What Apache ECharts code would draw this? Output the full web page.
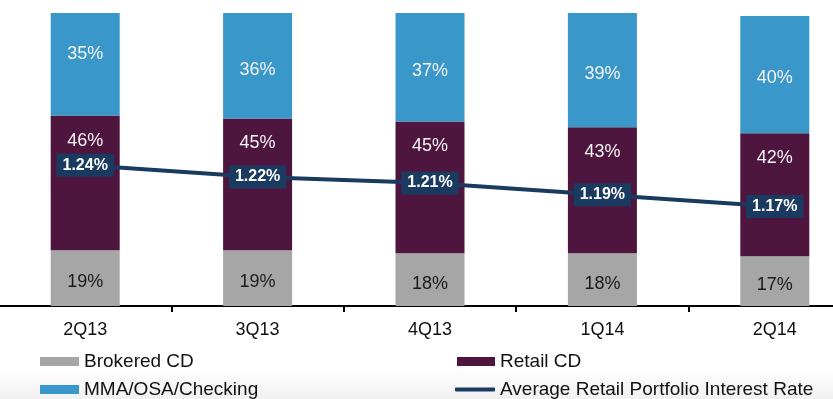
<!DOCTYPE html>
<html>
<head>
<meta charset="utf-8">
<title>Retail deposit mix</title>
<script src="https://cdn.jsdelivr.net/npm/echarts@6/dist/echarts.min.js"></script>
<style>
  html, body { margin: 0; padding: 0; background: #ffffff; }
  #chart { width: 833px; height: 399px; }
</style>
</head>
<body>
<div id="chart"></div>
<script>
// Quarterly deposit mix (% of retail portfolio) and average interest rate
const quarters = ['2Q13', '3Q13', '4Q13', '1Q14', '2Q14'];
const brokeredCD = [19, 19, 18, 18, 17];
const retailCD = [46, 45, 45, 43, 42];
const mmaChecking = [35, 36, 37, 39, 40];
const avgRate = [1.24, 1.22, 1.21, 1.19, 1.17];

const FONT = '"Liberation Sans", Arial, sans-serif';
const GRAY = '#a6a6a6';
const PLUM = '#4e163e';
const BLUE = '#3997c9';
const NAVY = '#1b3a5f';

const chart = echarts.init(document.getElementById('chart'), null, { renderer: 'canvas' });

const pct = p => p.value + '%';

const option = {
  animation: false,
  backgroundColor: '#ffffff',
  textStyle: { fontFamily: FONT },
  graphic: [{
    type: 'rect',
    z: -10,
    shape: { x: 0, y: 368, width: 833, height: 31 },
    style: {
      fill: new echarts.graphic.LinearGradient(0, 0, 0, 1, [
        { offset: 0, color: '#ffffff' },
        { offset: 1, color: '#f1f1f1' }
      ])
    }
  }],
  grid: {
    left: -1, right: -28, top: 13, bottom: 93,
    containLabel: false, outerBoundsMode: 'none'
  },
  xAxis: {
    type: 'category',
    data: quarters,
    axisLine: { lineStyle: { color: '#000000', width: 2 } },
    axisTick: { show: true, length: 6, lineStyle: { color: '#000000', width: 2 } },
    axisLabel: { color: '#111111', fontSize: 18, fontFamily: FONT, margin: 15 }
  },
  yAxis: [
    { type: 'value', min: 0, max: 100, show: false, splitLine: { show: false } },
    { type: 'value', min: 1.0, max: 1.5, show: false, splitLine: { show: false } }
  ],
  legend: [
    {
      data: ['Brokered CD'], left: 40, top: 352, padding: 0,
      itemWidth: 39, itemHeight: 9, icon: 'rect',
      textStyle: { fontSize: 19, color: '#111111', fontFamily: FONT }
    },
    {
      data: ['MMA/OSA/Checking'], left: 40, top: 380, padding: 0,
      itemWidth: 39, itemHeight: 9, icon: 'rect',
      textStyle: { fontSize: 19, color: '#111111', fontFamily: FONT }
    },
    {
      data: ['Retail CD'], left: 457, top: 352, padding: 0,
      itemWidth: 38, itemHeight: 9, icon: 'rect',
      textStyle: { fontSize: 19, color: '#111111', fontFamily: FONT }
    },
    {
      data: ['Average Retail Portfolio Interest Rate'], left: 455, top: 380, padding: 0,
      itemWidth: 40, itemHeight: 4, icon: 'roundRect',
      textStyle: { fontSize: 19, color: '#111111', fontFamily: FONT }
    }
  ],
  series: [
    {
      name: 'Brokered CD',
      type: 'bar',
      stack: 'mix',
      barWidth: 69,
      data: brokeredCD,
      itemStyle: { color: GRAY },
      label: {
        show: true, position: 'inside', offset: [0, 4],
        formatter: pct, color: '#1a1a1a', fontSize: 18, fontFamily: FONT
      }
    },
    {
      name: 'Retail CD',
      type: 'bar',
      stack: 'mix',
      barWidth: 69,
      data: retailCD,
      itemStyle: { color: PLUM },
      label: {
        show: true, position: 'insideTop', distance: 16,
        formatter: pct, color: '#f4f4f4', fontSize: 18, fontFamily: FONT
      }
    },
    {
      name: 'MMA/OSA/Checking',
      type: 'bar',
      stack: 'mix',
      barWidth: 69,
      data: mmaChecking.map((v, i) => i === 0
        ? { value: v, label: { offset: [0, -10] } }
        : v),
      itemStyle: { color: BLUE },
      label: {
        show: true, position: 'inside', offset: [0, 4],
        formatter: pct, color: '#f4f4f4', fontSize: 18, fontFamily: FONT
      }
    },
    {
      name: 'Average Retail Portfolio Interest Rate',
      type: 'line',
      yAxisIndex: 1,
      data: avgRate,
      symbol: 'circle',
      symbolSize: 1,
      itemStyle: { color: NAVY },
      lineStyle: { color: NAVY, width: 4 },
      z: 5,
      label: {
        show: true,
        position: 'inside',
        formatter: p => p.value.toFixed(2) + '%',
        color: '#ffffff',
        fontWeight: 'bold',
        fontSize: 16,
        fontFamily: FONT,
        backgroundColor: NAVY,
        padding: [4, 6, 3, 6]
      }
    }
  ]
};

chart.setOption(option);
</script>
</body>
</html>
